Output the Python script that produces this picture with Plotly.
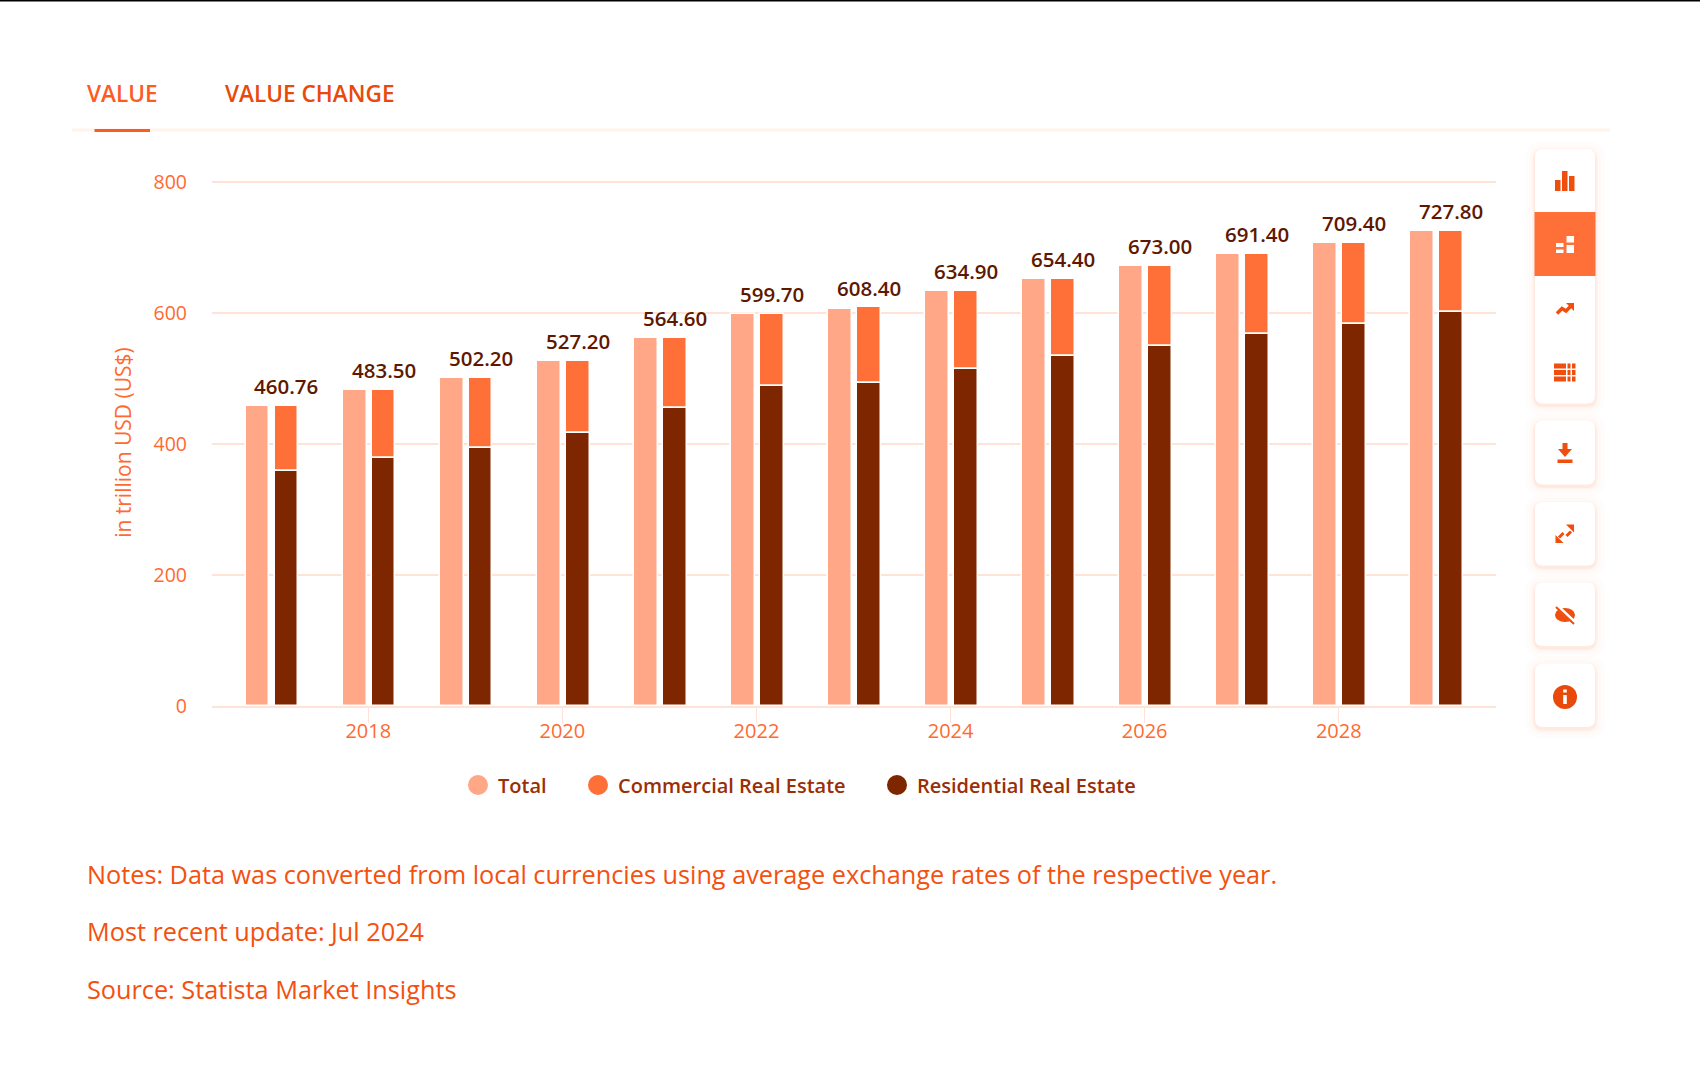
import plotly.graph_objects as go

# years and values (trillion USD)
years = [2017, 2018, 2019, 2020, 2021, 2022, 2023, 2024, 2025, 2026, 2027, 2028, 2029]
total = [458, 482, 500, 526, 562, 598, 605, 633, 651, 671, 689, 707, 725]
residential = [358, 378, 394, 416, 454.5, 487.5, 492.5, 514, 534, 549, 567, 582, 600.5]
commercial = [100, 104, 106, 110, 107.5, 110.5, 115.5, 119, 117, 122, 122, 125, 124.5]
bar_labels = ["460.76", "483.50", "502.20", "527.20", "564.60", "599.70", "608.40",
              "634.90", "654.40", "673.00", "691.40", "709.40", "727.80"]
y_ticks = [0, 200, 400, 600, 800]
x_ticks = [2018, 2020, 2022, 2024, 2026, 2028]
legend_names = ["Total", "Commercial Real Estate", "Residential Real Estate"]
note_lines = ["Notes: Data was converted from local currencies using average exchange rates of the respective year.",
              "Most recent update: Jul 2024",
              "Source: Statista Market Insights"]

W, H = 1700, 1080
FONT = "Open Sans"
C_TOTAL = "#FFA786"
C_COMM = "#FF7038"
C_RES = "#7D2600"
C_TEXT = "#F4500F"
C_TICK = "#FF6A30"
C_GRID = "#FFE3D6"


def px(x):
    return x / W


def py(y):
    return 1 - y / H


def rrect(x0, y0, x1, y1, r):
    # rounded rectangle as an svg path, paper coordinates
    return (f"M{px(x0 + r)},{py(y0)} L{px(x1 - r)},{py(y0)} Q{px(x1)},{py(y0)} {px(x1)},{py(y0 + r)} "
            f"L{px(x1)},{py(y1 - r)} Q{px(x1)},{py(y1)} {px(x1 - r)},{py(y1)} L{px(x0 + r)},{py(y1)} "
            f"Q{px(x0)},{py(y1)} {px(x0)},{py(y1 - r)} L{px(x0)},{py(y0 + r)} Q{px(x0)},{py(y0)} {px(x0 + r)},{py(y0)} Z")


def box(x0, y0, x1, y1, color):
    return dict(type="rect", xref="paper", yref="paper", x0=px(x0), x1=px(x1), y0=py(y1), y1=py(y0),
                fillcolor=color, line_width=0, layer="above")


def poly(points, color):
    d = "M" + " L".join(f"{px(x)},{py(y)}" for x, y in points) + " Z"
    return dict(type="path", xref="paper", yref="paper", path=d, fillcolor=color, line_width=0, layer="above")


def stroke(points, color, width):
    d = "M" + " L".join(f"{px(x)},{py(y)}" for x, y in points)
    return dict(type="path", xref="paper", yref="paper", path=d, line=dict(color=color, width=width), layer="above")


BAR_W = 0.245
STACK_OFFSET = 0.035
fig = go.Figure()

fig.add_trace(go.Bar(x=years, y=total, width=BAR_W, offset=-0.263, marker=dict(color=C_TOTAL, line=dict(color="white", width=1.5)),
                     showlegend=False))
fig.add_trace(go.Bar(x=years, y=commercial, base=residential, width=BAR_W, offset=STACK_OFFSET,
                     marker=dict(color=C_COMM, line=dict(color="white", width=1.5)), showlegend=False))
fig.add_trace(go.Bar(x=years, y=residential, width=BAR_W, offset=STACK_OFFSET,
                     marker=dict(color=C_RES, line=dict(color="white", width=1.5)), showlegend=False))

# legend entries are separate so the round markers show
legend_colors = [C_TOTAL, C_COMM, C_RES]
legend_ids = ["legend", "legend2", "legend3"]
for name, color, lid in zip(legend_names, legend_colors, legend_ids):
    fig.add_trace(go.Scatter(x=[None], y=[None], mode="markers", name=name, legend=lid,
                             marker=dict(color=color, size=16, line=dict(color=color, width=4))))

annotations = []
for yr, base, comm, label in zip(years, residential, commercial, bar_labels):
    annotations.append(dict(x=yr + STACK_OFFSET + BAR_W / 2, y=base + comm, yshift=20, text=label, showarrow=False,
                            xanchor="center", yanchor="middle",
                            font=dict(family=FONT, size=20.5, color="#5E1800", weight=600)))

# tabs
annotations.append(dict(xref="paper", yref="paper", x=px(85), y=py(94), text="VALUE", showarrow=False, xanchor="left",
                        yanchor="middle", font=dict(family=FONT, size=22.6, color="#FF5A1F", weight=600)))
annotations.append(dict(xref="paper", yref="paper", x=px(223), y=py(94), text="VALUE CHANGE", showarrow=False, xanchor="left",
                        yanchor="middle", font=dict(family=FONT, size=22.6, color="#E9490B", weight=600)))

# notes under the chart
for line, y in zip(note_lines, [874, 931, 989]):
    annotations.append(dict(xref="paper", yref="paper", x=px(85), y=py(y), text=line, showarrow=False, xanchor="left",
                            yanchor="middle", font=dict(family=FONT, size=25.25, color=C_TEXT)))

shapes = [
    box(0, 0, W, 1.5, "#000000"),
    box(72, 128.5, 1610, 131.5, "#FFF3EC"),
    box(94.5, 129, 150, 132, "#FF5A1F"),
]

# toolbar cards with a soft shadow
cards = [(149, 403.5), (420.5, 484.5), (502, 565.6), (582.6, 646), (663.6, 727)]
for y0, y1 in cards:
    for grow, alpha in [(10, 0.015), (6, 0.025), (3, 0.04), (1.5, 0.07)]:
        shapes.append(dict(type="path", xref="paper", yref="paper", path=rrect(1535 - grow, y0 - grow + 2, 1595 + grow, y1 + grow + 2, 8 + grow),
                           fillcolor=f"rgba(255,110,50,{alpha})", line_width=0, layer="above"))
    shapes.append(dict(type="path", xref="paper", yref="paper", path=rrect(1535, y0, 1595, y1, 8),
                       fillcolor="white", line_width=0, layer="above"))
shapes.append(box(1534.5, 212, 1595.5, 276, C_COMM))

ICON = "#EE4E0E"
cx = 1565
# bar chart icon
shapes += [box(cx - 10, 180, cx - 4.5, 191, ICON), box(cx - 3, 171, cx + 2.5, 191, ICON), box(cx + 4, 176, cx + 9.5, 191, ICON)]
# stacked icon, white on orange
shapes += [box(cx - 9, 243, cx - 1.5, 247, "white"), box(cx - 9, 249.5, cx - 1.5, 253, "white"),
           box(cx + 1.5, 236, cx + 9, 242.5, "white"), box(cx + 1.5, 245, cx + 9, 253, "white")]
# trend icon
shapes.append(stroke([(cx - 8, 313.5), (cx - 3, 308.5), (cx + 1, 311), (cx + 6, 306)], ICON, 3.5))
shapes.append(poly([(cx + 1, 303), (cx + 9, 303), (cx + 9, 311)], ICON))
# table icon
for row in [363.5, 370, 376.5]:
    shapes += [box(cx - 11, row, cx + 1, row + 5, ICON), box(cx + 2.5, row, cx + 5.5, row + 5, ICON),
               box(cx + 7, row, cx + 10.5, row + 5, ICON)]
# download icon
shapes.append(box(cx - 7.5, 459.5, cx + 7.5, 463, ICON))
shapes.append(poly([(cx - 2.5, 443), (cx + 2.5, 443), (cx + 2.5, 449), (cx + 7, 449), (cx, 457), (cx - 7, 449), (cx - 2.5, 449)], ICON))
# expand icon, two arrows apart
shapes.append(stroke([(cx + 1.5, 536), (cx + 6, 531.5)], ICON, 3))
shapes.append(poly([(cx + 1, 524.5), (cx + 9, 524.5), (cx + 9, 532.5)], ICON))
shapes.append(stroke([(cx - 1.5, 533), (cx - 6, 537.5)], ICON, 3))
shapes.append(poly([(cx - 9.5, 535), (cx - 9.5, 543), (cx - 1.5, 543)], ICON))
# hidden eye icon
shapes.append(dict(type="circle", xref="paper", yref="paper", x0=px(cx - 10), x1=px(cx + 10), y0=py(622), y1=py(608),
                   fillcolor=ICON, line_width=0, layer="above"))
shapes.append(stroke([(cx - 8, 606), (cx + 10, 623)], "white", 4))
shapes.append(stroke([(cx - 9, 607), (cx + 9, 624)], ICON, 2))
# info icon
shapes.append(dict(type="circle", xref="paper", yref="paper", x0=px(cx - 12), x1=px(cx + 12), y0=py(709), y1=py(685),
                   fillcolor="#E9490B", line_width=0, layer="above"))
shapes.append(box(cx - 1.8, 695, cx + 1.8, 704, "white"))
shapes.append(box(cx - 1.8, 689.5, cx + 1.8, 692.5, "white"))

legend_base = dict(orientation="h", yanchor="middle", xanchor="left", bgcolor="rgba(0,0,0,0)",
                   font=dict(family=FONT, size=20, color="#9A2E06", weight=600))

fig.update_layout(
    width=W, height=H, margin=dict(l=0, r=0, t=0, b=0, autoexpand=False), paper_bgcolor="white", plot_bgcolor="white",
    barmode="overlay", bargap=0, font=dict(family=FONT),
    xaxis=dict(domain=[px(212), px(1496)], range=[2016.39, 2029.62], tickmode="array", tickvals=x_ticks,
               ticktext=[str(t) for t in x_ticks], showgrid=False, showline=True, linecolor=C_GRID, linewidth=2,
               ticks="outside", ticklen=15, tickcolor=C_GRID, tickwidth=1, zeroline=False, ticklabelstandoff=-9,
               tickfont=dict(family=FONT, size=20, color=C_TICK)),
    # top of the range past 800, plotly drops a gridline right at the plot edge
    yaxis=dict(domain=[py(706), py(179.1)], range=[0, 804], tickmode="array", tickvals=y_ticks, showgrid=True,
               gridcolor=C_GRID, gridwidth=2, zeroline=False, ticklabelstandoff=24, showline=False,
               title=dict(text="in trillion USD (US$)", font=dict(family=FONT, size=21, color=C_TICK), standoff=16),
               tickfont=dict(family=FONT, size=19.5, color=C_TICK)),
    legend=dict(**legend_base, x=px(458), y=py(785)),
    legend2=dict(**legend_base, x=px(578), y=py(785)),
    legend3=dict(**legend_base, x=px(877), y=py(785)),
    annotations=annotations,
    shapes=shapes,
)

fig.write_html("out.html", post_script="document.body.style.margin='0';", config={"displayModeBar": False})
